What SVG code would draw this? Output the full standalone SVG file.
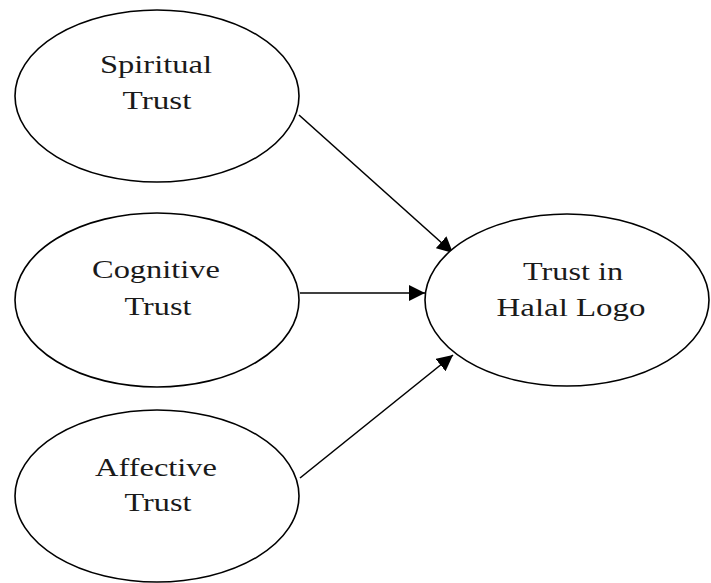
<svg xmlns="http://www.w3.org/2000/svg" width="711" height="583" viewBox="0 0 711 583">
<style>
.node ellipse{fill:#fff;stroke:#000;stroke-width:1.6}
.node text{font-family:"Liberation Serif","Times New Roman",serif;font-size:26px;fill:#1a1a1a;text-anchor:middle}
.edge{stroke:#000;stroke-width:1.6;fill:none;marker-end:url(#arr)}
</style>
<defs>
<marker id="arr" viewBox="0 0 10 10" refX="10" refY="5" markerWidth="16" markerHeight="16" markerUnits="userSpaceOnUse" orient="auto">
<path d="M0,0 L10,5 L0,10 z" fill="#000"/>
</marker>
</defs>
<rect width="711" height="583" fill="#fff"/>
<g id="connectors">
<line class="edge" x1="299" y1="115" x2="453" y2="253"/>
<line class="edge" x1="300" y1="293" x2="425" y2="293"/>
<line class="edge" x1="300" y1="478" x2="453" y2="355"/>
</g>
<g id="spiritual" class="node">
<ellipse cx="157" cy="96" rx="142" ry="86"/>
<text x="156" y="73" textLength="112" lengthAdjust="spacingAndGlyphs">Spiritual</text>
<text x="157" y="109" textLength="69" lengthAdjust="spacingAndGlyphs">Trust</text>
</g>
<g id="cognitive" class="node">
<ellipse cx="157" cy="300" rx="142" ry="87"/>
<text x="156" y="278" textLength="128" lengthAdjust="spacingAndGlyphs">Cognitive</text>
<text x="158" y="315" textLength="67" lengthAdjust="spacingAndGlyphs">Trust</text>
</g>
<g id="affective" class="node">
<ellipse cx="157" cy="496" rx="142" ry="86"/>
<text x="156" y="476" textLength="122" lengthAdjust="spacingAndGlyphs">Affective</text>
<text x="158" y="511" textLength="67" lengthAdjust="spacingAndGlyphs">Trust</text>
</g>
<g id="trust-halal" class="node">
<ellipse cx="567" cy="300" rx="142" ry="86"/>
<text x="573" y="280" textLength="100" lengthAdjust="spacingAndGlyphs">Trust in</text>
<text x="571" y="316" textLength="149" lengthAdjust="spacingAndGlyphs">Halal Logo</text>
</g>
</svg>
